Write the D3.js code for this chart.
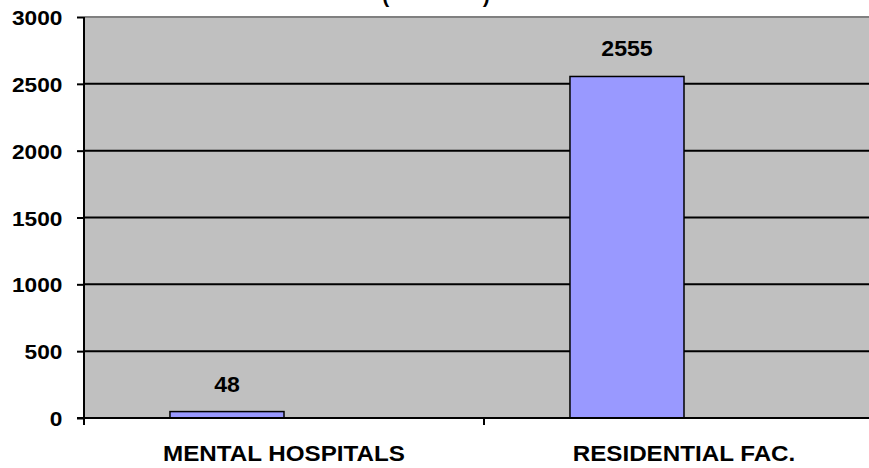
<!DOCTYPE html>
<html><head><meta charset="utf-8">
<script src="https://cdn.jsdelivr.net/npm/d3@7"></script>
<style>body{margin:0;background:#fff}svg{display:block}text{font-family:"Liberation Sans",Arial,sans-serif;font-weight:bold;fill:#000}</style>
</head><body><svg id="c" width="869" height="468"></svg>
<script>
const categories = ["MENTAL HOSPITALS", "RESIDENTIAL FAC."];
const series = ["Series 1", "Series 2"];
const values = [48, 2555];
const yTicks = [0, 500, 1000, 1500, 2000, 2500, 3000];
const title = "(                )";

const svg = d3.select("#c");
const L = 84, T = 17, B = 418, R = 884;
const y = d3.scaleLinear().domain([0, 3000]).range([B, T]);
const x0 = d3.scaleBand().domain(categories).range([L, R]).padding(0);
const x1 = d3.scaleBand().domain(series).range([0, x0.bandwidth()]).paddingInner(0).paddingOuter(0.754);

svg.append("text").attr("x", 436).attr("y", 3).attr("text-anchor", "middle")
  .attr("font-size", 21).attr("xml:space", "preserve").style("white-space","pre").text(title);

svg.append("rect").attr("x", L).attr("y", T).attr("width", R - L).attr("height", B - T).attr("fill", "#C0C0C0");

// gridlines
svg.append("g").selectAll("line").data(yTicks.filter(d => d > 0 && d < 3000)).join("line")
  .attr("x1", L).attr("x2", R).attr("y1", d => y(d)).attr("y2", d => y(d))
  .attr("stroke", "#000").attr("stroke-width", 2);
svg.append("line").attr("x1", L).attr("x2", R).attr("y1", T).attr("y2", T).attr("stroke", "#808080").attr("stroke-width", 2);

// bars
svg.append("g").selectAll("rect").data(values).join("rect")
  .attr("x", (d, i) => x0(categories[i]) + x1(series[0]))
  .attr("y", d => y(d))
  .attr("width", x1.bandwidth())
  .attr("height", d => B - y(d))
  .attr("fill", "#9999FF").attr("stroke", "#000").attr("stroke-width", 1.5);

// value labels
svg.append("g").selectAll("text").data(values).join("text")
  .attr("transform", (d, i) => `translate(${x0(categories[i]) + x1(series[0]) + x1.bandwidth() / 2},${y(d) - 20}) scale(1.05,1)`)
  .attr("text-anchor", "middle").attr("font-size", 22)
  .text(d => d);

// y axis
const ya = svg.append("g").attr("transform", `translate(${L},0)`)
  .call(d3.axisLeft(y).tickValues(yTicks).tickSize(7).tickPadding(13).tickFormat(d3.format("d")));
ya.select(".domain").attr("stroke", "#000").attr("stroke-width", 2).attr("d", `M0,${T}V${B}`);
ya.selectAll(".tick line").attr("stroke", "#000").attr("stroke-width", 2);
ya.selectAll(".tick text").attr("font-size", 21).attr("font-family", null).attr("dy", "0.36em")
  .attr("transform", "scale(1.08,1)");

// x axis
const xa = svg.append("g").attr("transform", `translate(0,${B})`)
  .call(d3.axisBottom(x0).tickSize(0).tickPadding(0));
xa.select(".domain").remove();
xa.selectAll(".tick text").attr("font-size", 22).attr("font-family", null).attr("dy", null).attr("y", null)
  .attr("transform", "translate(0,43) scale(1.1,1)");
svg.append("line").attr("x1", L - 7).attr("x2", R).attr("y1", B).attr("y2", B).attr("stroke", "#000").attr("stroke-width", 2);
const bounds = [L, L + x0.bandwidth(), R];
svg.append("g").selectAll("line").data(bounds).join("line")
  .attr("x1", d => d).attr("x2", d => d).attr("y1", B).attr("y2", B + 7)
  .attr("stroke", "#000").attr("stroke-width", 2);
</script></body></html>
